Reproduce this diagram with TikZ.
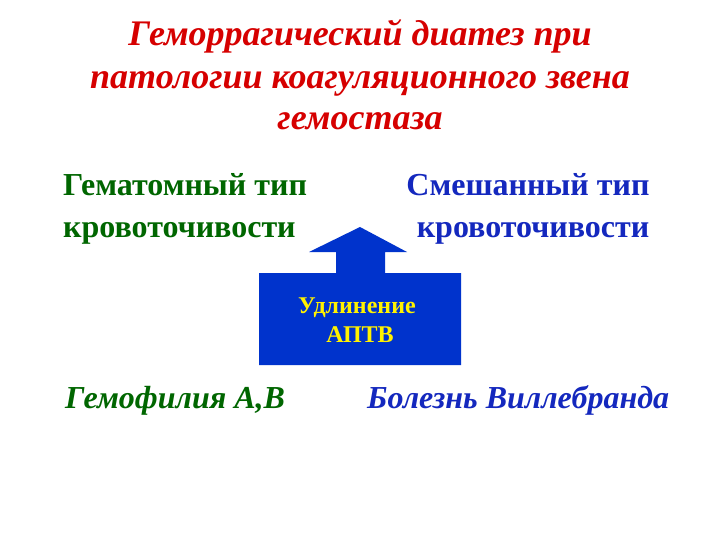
\documentclass[tikz,border=0pt]{standalone}
\usepackage{fontspec}
\setmainfont{Liberation Serif}
\definecolor{titlered}{RGB}{214,0,0}
\definecolor{dkgreen}{RGB}{0,102,0}
\definecolor{txtblue}{RGB}{20,40,190}
\definecolor{arrowblue}{RGB}{0,51,204}
\tikzset{
  titletext/.style={font=\fontsize{36}{42}\selectfont\bfseries\itshape, text=titlered, anchor=base, inner sep=0pt},
  bodytext/.style={font=\fontsize{32}{38}\selectfont\bfseries, inner sep=0pt},
  sectext/.style={font=\fontsize{32}{38}\selectfont\bfseries\itshape, inner sep=0pt, anchor=base west},
  boxtext/.style={font=\fontsize{24}{28}\selectfont\bfseries, text=yellow, anchor=base, inner sep=0pt},
  blockarrow/.style={fill=arrowblue, draw=none}
}
\begin{document}
\begin{tikzpicture}[x=1pt,y=-1pt]
\useasboundingbox[fill=white] (0,0) rectangle (720,540);
% title
\node[titletext] (t1) at (360,46) {Геморрагический диатез при};
\node[titletext] (t2) at (360,89) {патологии коагуляционного звена};
\node[titletext] (t3) at (360,130) {гемостаза};
% left/right texts
\node[bodytext, text=dkgreen, anchor=base west] (l1) at (63,196) {Гематомный тип};
\node[bodytext, text=dkgreen, anchor=base west] (l2) at (63,237) {кровоточивости};
\node[bodytext, text=txtblue, anchor=base] (r1) at (528,196) {Смешанный тип};
\node[bodytext, text=txtblue, anchor=base] (r2) at (533,237) {кровоточивости};
% block arrow
\fill[blockarrow] (259,273) -- (336,273) -- (336,252) -- (309,252) -- (360,227)
  -- (407,252) -- (385,252) -- (385,273) -- (461,273) -- (461,365) -- (259,365) -- cycle;
\node[boxtext] (b1) at (357,313) {Удлинение};
\node[boxtext] (b2) at (360,342) {АПТВ};
% bottom
\node[sectext, text=dkgreen] (g1) at (65,408) {Гемофилия А,В};
\node[sectext, text=txtblue] (g2) at (367,408) {Болезнь Виллебранда};
\end{tikzpicture}
\end{document}
